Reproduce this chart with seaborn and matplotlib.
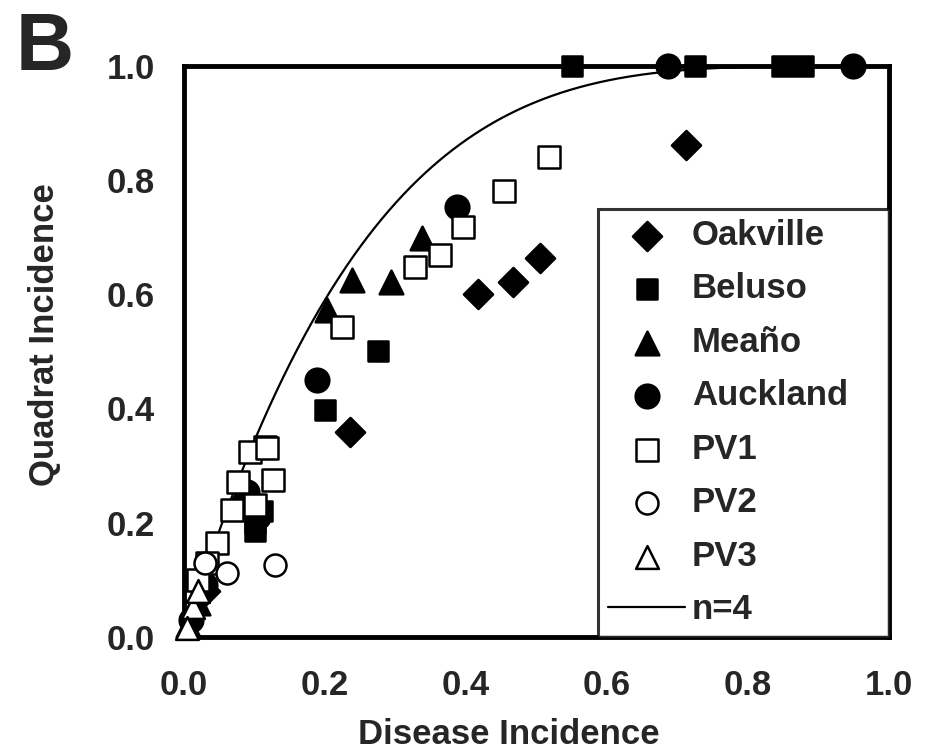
import numpy as np
import pandas as pd
import matplotlib
matplotlib.use("Agg")
import matplotlib.pyplot as plt
import seaborn as sns

# ---- data ----
oak_x = [0.712, 0.505, 0.467, 0.417, 0.235, 0.100, 0.095, 0.030]
oak_y = [0.862, 0.664, 0.622, 0.601, 0.359, 0.220, 0.240, 0.080]
bel_x = [0.550, 0.725, 0.848, 0.878, 0.275, 0.200, 0.100, 0.110, 0.100, 0.020]
bel_y = [1.000, 1.000, 1.000, 1.000, 0.501, 0.398, 0.200, 0.220, 0.185, 0.100]
mea_x = [0.203, 0.238, 0.294, 0.338, 0.085, 0.020, 0.005]
mea_y = [0.573, 0.625, 0.622, 0.699, 0.260, 0.060, 0.020]
auc_x = [0.687, 0.949, 0.387, 0.188, 0.090, 0.105, 0.030, 0.010]
auc_y = [1.000, 1.000, 0.753, 0.450, 0.254, 0.210, 0.090, 0.030]
pv1_x = [0.518, 0.454, 0.396, 0.363, 0.328, 0.224, 0.115, 0.094, 0.117, 0.126,
         0.077, 0.068, 0.047, 0.033, 0.100, 0.020]
pv1_y = [0.840, 0.781, 0.718, 0.669, 0.648, 0.543, 0.333, 0.324, 0.331, 0.275,
         0.272, 0.222, 0.165, 0.130, 0.230, 0.100]
pv2_x = [0.129, 0.061, 0.030]
pv2_y = [0.126, 0.112, 0.130]
pv3_x = [0.013, 0.004, 0.020]
pv3_y = [0.053, 0.016, 0.080]
curve_n = 4  # binomial model n=4
tick_vals = [0.0, 0.2, 0.4, 0.6, 0.8, 1.0]
tick_labels = ["0.0", "0.2", "0.4", "0.6", "0.8", "1.0"]

sns.set_style("white")
plt.rcParams["font.family"] = ["Liberation Sans", "DejaVu Sans"]
plt.rcParams["font.weight"] = "bold"

fig = plt.figure(figsize=(9.34, 7.5), dpi=100)
ax = fig.add_axes([0.197, 0.151, 0.755, 0.761])

series = [
    ("Oakville", oak_x, oak_y, "D", "black", 220),
    ("Beluso", bel_x, bel_y, "s", "black", 200),
    ("Meaño", mea_x, mea_y, "^", "black", 290),
    ("Auckland", auc_x, auc_y, "o", "black", 290),
    ("PV1", pv1_x, pv1_y, "s", "white", 240),
    ("PV2", pv2_x, pv2_y, "o", "white", 250),
    ("PV3", pv3_x, pv3_y, "^", "white", 270),
]
for i, (name, xs, ys, mk, fc, s) in enumerate(series):
    df = pd.DataFrame({"x": xs, "y": ys})
    sns.scatterplot(data=df, x="x", y="y", marker=mk, s=s, color=fc,
                    edgecolor="black", linewidth=1.8, ax=ax, label=name,
                    clip_on=False, zorder=3 + i)

p = np.linspace(0, 1, 300)
curve = pd.DataFrame({"x": p, "y": 1 - (1 - p) ** curve_n})
sns.lineplot(data=curve, x="x", y="y", color="black", linewidth=1.6, ax=ax,
             label="n=4", zorder=2)

ax.set_xlim(0, 1)
ax.set_ylim(0, 1)
ax.set_xticks(tick_vals)
ax.set_yticks(tick_vals)
ax.set_xticklabels(tick_labels)
ax.set_yticklabels(tick_labels)
ax.tick_params(axis="x", length=0, labelsize=25, pad=23)
ax.tick_params(axis="y", length=0, labelsize=25, pad=21)
for lab in ax.get_xticklabels() + ax.get_yticklabels():
    lab.set_fontweight("bold")
for sp in ax.spines.values():
    sp.set_visible(True)
    sp.set_color("black")
    sp.set_linewidth(3.5)
ax.set_xlabel("Disease Incidence", fontsize=25, fontweight="bold")
ax.set_ylabel("Quadrat Incidence", fontsize=25, fontweight="bold")
ax.xaxis.set_label_coords(0.46, -0.142)
ax.yaxis.set_label_coords(-0.175, 0.53)

handles, labels = ax.get_legend_handles_labels()
leg = ax.legend(handles, labels, loc="lower left", mode="expand",
                bbox_to_anchor=(0.587, 0.0, 0.413, 0.741), borderaxespad=0,
                frameon=True, fancybox=False, prop={"size": 25, "weight": "bold"},
                labelspacing=0.59, handlelength=2.2, handletextpad=0.2,
                borderpad=0.3)
leg.get_frame().set_edgecolor("black")
leg.get_frame().set_linewidth(2.2)
leg.set_zorder(20)

fig.text(0.017, 0.985, "B", fontsize=58, fontweight="bold", va="top", ha="left")

fig.savefig("out.png", dpi=100)
